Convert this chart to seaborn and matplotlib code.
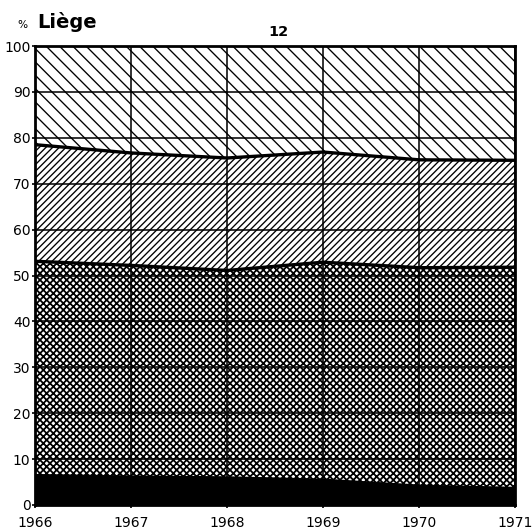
import matplotlib
matplotlib.use("Agg")
import matplotlib.pyplot as plt
import seaborn as sns
import numpy as np
import pandas as pd

years = [1966, 1967, 1968, 1969, 1970, 1971]
# cumulative boundaries (percent)
layer1_top = [6.4, 6.1, 5.9, 5.4, 4.1, 3.6]        # solid black
layer2_top = [53.1, 52.2, 51.1, 52.9, 51.7, 51.8]  # cross-hatched
layer3_top = [78.5, 76.7, 75.6, 76.9, 75.2, 75.1]  # forward hatch
layer4_top = [100, 100, 100, 100, 100, 100]        # back hatch
y_ticks = [0, 10, 20, 30, 40, 50, 60, 70, 80, 90, 100]
title_small = "%"
title_big = "Liège"
panel_no = "12"

sns.set_style("white")
plt.rcParams['font.family'] = ['DejaVu Sans']
plt.rcParams['hatch.color'] = 'black'
plt.rcParams['text.color'] = 'black'
plt.rcParams['xtick.color'] = 'black'
plt.rcParams['ytick.color'] = 'black'
plt.rcParams['xtick.labelcolor'] = 'black'
plt.rcParams['ytick.labelcolor'] = 'black'

DPI = 80
fig = plt.figure(figsize=(532 / DPI, 531 / DPI), dpi=DPI)
ax = fig.add_axes([35 / 532, 1 - 505 / 531, 480 / 532, 459 / 531])

zeros = [0] * len(years)
ax.fill_between(years, zeros, layer1_top, facecolor='black', edgecolor='black', linewidth=0, zorder=1)
plt.rcParams['hatch.linewidth'] = 1.6
ax.fill_between(years, layer1_top, layer2_top, facecolor='white', edgecolor='black',
                hatch='xxxx', linewidth=0, zorder=1)
plt.rcParams['hatch.linewidth'] = 1.2
ax.fill_between(years, layer2_top, layer3_top, facecolor='white', edgecolor='black',
                hatch='////', linewidth=0, zorder=1)
ax.fill_between(years, layer3_top, layer4_top, facecolor='white', edgecolor='black',
                hatch='\\\\', linewidth=0, zorder=1)

df = pd.DataFrame({'year': years, 'b1': layer1_top, 'b2': layer2_top, 'b3': layer3_top})
for col in ['b1', 'b2', 'b3']:
    sns.lineplot(data=df, x='year', y=col, ax=ax, color='black', linewidth=3, zorder=3)

ax.set_xlim(years[0], years[-1])
ax.set_ylim(0, 100)
ax.set_xticks(years)
ax.set_xticklabels([str(y) for y in years])
ax.set_yticks(y_ticks)
ax.set_yticklabels([str(t) for t in y_ticks])
ax.set_xlabel('')
ax.set_ylabel('')
ax.grid(True, color='black', linewidth=1.4, zorder=2)
ax.set_axisbelow(False)
for s in ax.spines.values():
    s.set_visible(True)
    s.set_color('black')
    s.set_linewidth(2.5)
    s.set_zorder(4)
ax.tick_params(axis='both', which='both', direction='out', length=3, width=1.5,
               colors='black', labelcolor='black', labelsize=12.5)
ax.tick_params(axis='y', left=True, pad=1)
ax.tick_params(axis='x', bottom=True, pad=7)

fig.text(17 / 532, 1 - 28 / 531, title_small, fontsize=9.5, color='black', ha='left', va='baseline')
fig.text(37 / 532, 1 - 28 / 531, title_big, fontsize=17.5, fontweight='bold', color='black',
         ha='left', va='baseline')
fig.text(278 / 532, 1 - 36 / 531, panel_no, fontsize=13, fontweight='bold', color='black',
         ha='center', va='baseline')

fig.savefig('out.png', dpi=DPI, facecolor='white')
